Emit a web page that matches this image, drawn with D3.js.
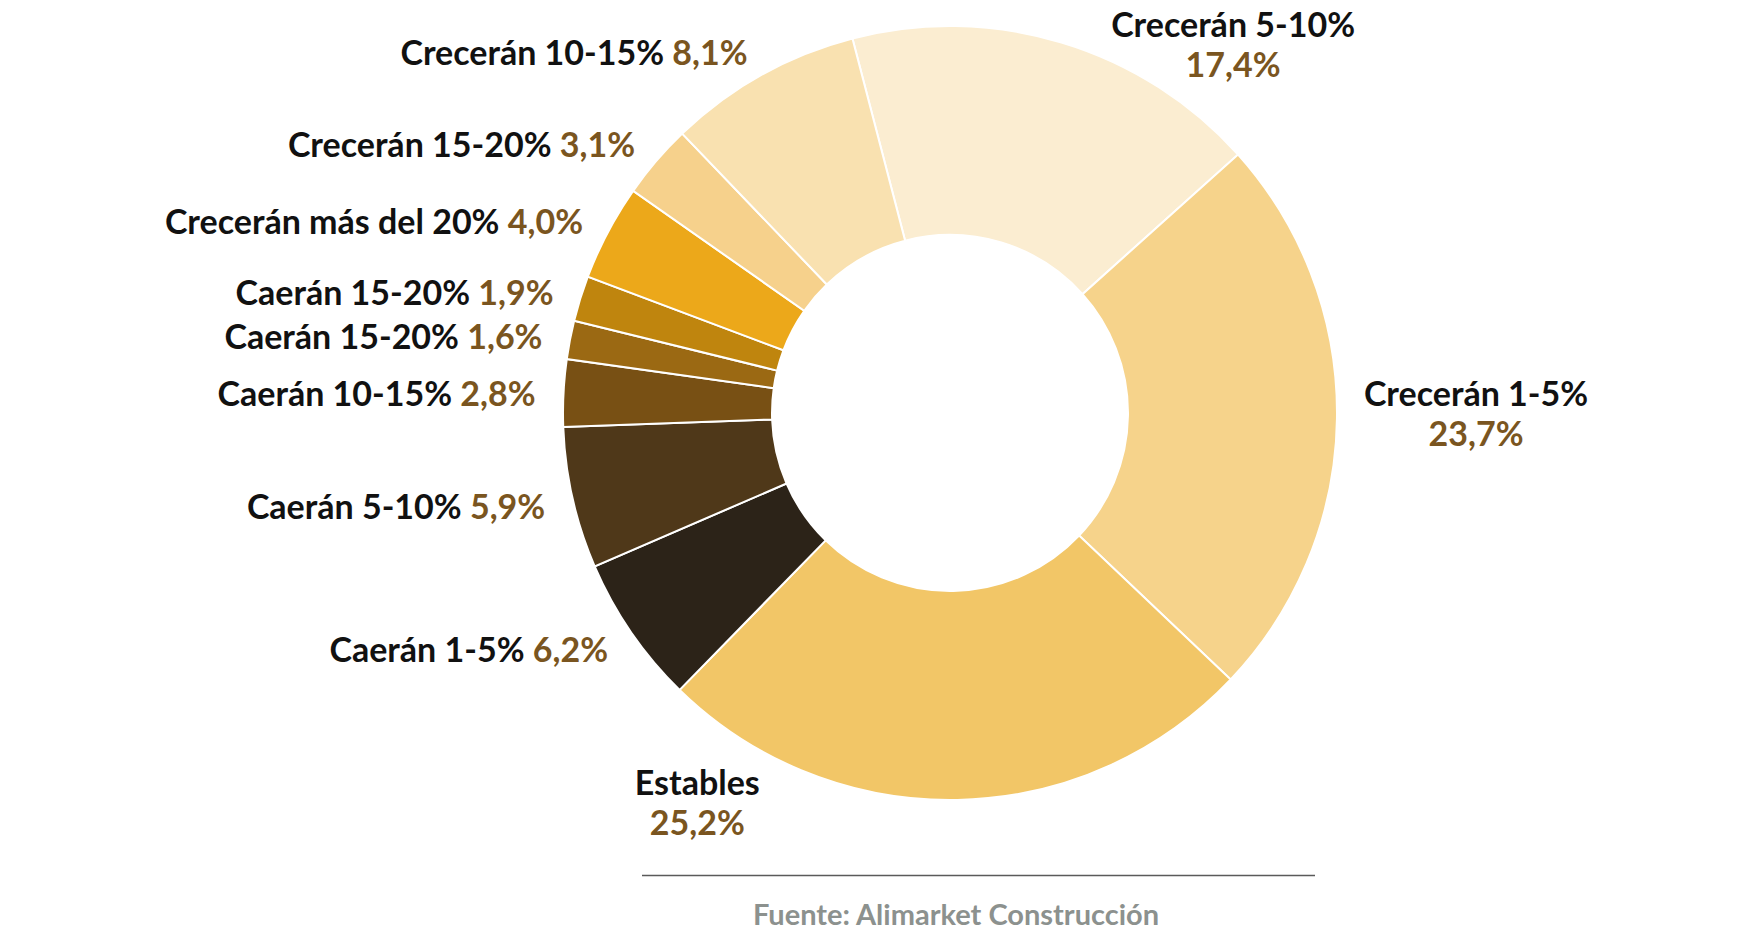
<!DOCTYPE html>
<html>
<head>
<meta charset="utf-8">
<script src="https://cdn.jsdelivr.net/npm/d3@7"></script>
<style>
  html, body { margin: 0; padding: 0; background: #ffffff; }
  svg { display: block; }
  text { font-family: Lato, "Open Sans", sans-serif; font-weight: 700; }
</style>
</head>
<body>
<div id="chart"></div>
<script>
// ---- Data (clockwise, starting with "Crecerán 5-10%") ----
const categories = [
  "Crecerán 5-10%",
  "Crecerán 1-5%",
  "Estables",
  "Caerán 1-5%",
  "Caerán 5-10%",
  "Caerán 10-15%",
  "Caerán 15-20%",
  "Caerán 15-20%",
  "Crecerán más del 20%",
  "Crecerán 15-20%",
  "Crecerán 10-15%"
];
const values = [17.4, 23.7, 25.2, 6.2, 5.9, 2.8, 1.6, 1.9, 4.0, 3.1, 8.1];
const colors = [
  "#FBEDD1", "#F6D38B", "#F2C667", "#2C2318", "#4F3819", "#785014",
  "#9B6913", "#BF850E", "#ECA81A", "#F6D18C", "#F9E1B0"
];
const sourceText = "Fuente: Alimarket Construcción";

// ---- Layout ----
const W = 1760, H = 934;
const cx = 950, cy = 413;
const outerR = 387, innerR = 178;
const startDeg = -14.6;
const labelR = 415;
const fontSize = 34;
// two-line labels for the large slices: [angle (deg, clockwise from 12h), radius]
const blockLabels = { 0: [37.5, 465], 1: [90.0, 526], 2: [213.0, 464] };

const fmt = v => d3.format(".1f")(v).replace(".", ",") + "%";

const svg = d3.select("#chart").append("svg")
  .attr("width", W).attr("height", H);

const g = svg.append("g").attr("transform", `translate(${cx},${cy})`);

const start = startDeg * Math.PI / 180;
const pie = d3.pie().sort(null).value(d => d)
  .startAngle(start).endAngle(start + 2 * Math.PI);
const arcs = pie(values);

const arc = d3.arc().innerRadius(innerR).outerRadius(outerR);
const color = d3.scaleOrdinal().domain(d3.range(values.length)).range(colors);

g.selectAll("path.slice").data(arcs).join("path")
  .attr("class", "slice")
  .attr("d", arc)
  .attr("fill", (d, i) => color(i))
  .attr("stroke", "#ffffff")
  .attr("stroke-width", 2);

// labels
const labelArc = d3.arc().innerRadius(labelR).outerRadius(labelR);
const labels = g.append("g");

arcs.forEach((d, i) => {
  if (blockLabels[i]) {
    const [deg, r] = blockLabels[i];
    const a = deg * Math.PI / 180;
    const x = r * Math.sin(a), y = -r * Math.cos(a);
    const t = labels.append("text")
      .attr("text-anchor", "middle")
      .attr("font-size", fontSize)
      .attr("transform", `translate(${x},${y})`);
    t.append("tspan").attr("x", 0).attr("y", -20).attr("dy", "0.37em")
      .attr("fill", "#111111").text(categories[i]);
    t.append("tspan").attr("x", 0).attr("y", 20).attr("dy", "0.37em")
      .attr("fill", "#7A5520").text(fmt(values[i]));
  } else {
    const [x, y] = labelArc.centroid(d);
    const t = labels.append("text")
      .attr("text-anchor", "end")
      .attr("font-size", fontSize)
      .attr("x", x).attr("y", y).attr("dy", "0.42em");
    t.append("tspan").attr("fill", "#111111").text(categories[i] + " ");
    t.append("tspan").attr("fill", "#7A5520").text(fmt(values[i]));
  }
});

// footer rule + source
svg.append("line")
  .attr("x1", 642).attr("x2", 1315).attr("y1", 875.5).attr("y2", 875.5)
  .attr("stroke", "#5a5a5a").attr("stroke-width", 1.5);

svg.append("text")
  .attr("x", 956).attr("y", 915).attr("dy", "0.35em")
  .attr("text-anchor", "middle")
  .attr("font-size", 29)
  .attr("fill", "#8C918E")
  .text(sourceText);
</script>
</body>
</html>
